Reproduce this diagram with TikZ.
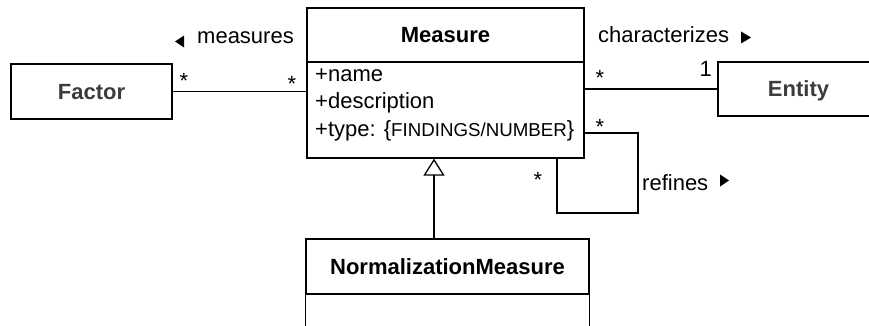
\documentclass[tikz,border=0pt]{standalone}
\usepackage{fontspec}
\setmainfont{Liberation Sans}
\usetikzlibrary{arrows.meta}
\definecolor{namegray}{HTML}{3C3C3C}
\begin{document}
\begin{tikzpicture}[x=1pt,y=-1pt,
  every node/.style={font=\fontsize{22}{27}\selectfont, inner sep=0pt},
  umlbox/.style={draw, line width=1.3pt, text height=15.75pt, text depth=0pt, font=\fontsize{22}{27}\selectfont\bfseries},
  conn/.style={line width=1.3pt},
  mult/.style={anchor=base},
  lbl/.style={anchor=base west}
]
\useasboundingbox (0,0) rectangle (869,326);
\clip (0,0) rectangle (869,326);

% classes
\node[umlbox, text=namegray, minimum width=161pt, minimum height=55pt] (F) at (91.5,91.5) {Factor};
\node[umlbox, minimum width=277pt, minimum height=54pt] (M) at (445.5,35) {Measure};
\node[draw, line width=1.3pt, minimum width=277pt, minimum height=96pt] (Ma) at (445.5,110) {};
\node[umlbox, text=namegray, minimum width=161pt, minimum height=54pt] (E) at (798.5,89) {Entity};
\node[umlbox, minimum width=283pt, minimum height=55pt] (N) at (447.5,266.5) {NormalizationMeasure};
\draw[conn] (N.south west) -- ++(0,70) -| (N.south east);

% attributes
\node[lbl] (a1) at (315,82) {+name};
\node[lbl] (a2) at (315,109) {+description};
\node[lbl] (a3) at (315,136) {+type: \{{\fontsize{18.7}{22}\selectfont FINDINGS/NUMBER}\}};

% associations
\draw[conn] (F.east) -- (F.east -| Ma.west);
\draw[conn] (E.west) -- (E.west -| Ma.east);
\coordinate (l1) at (638,133);
\coordinate (l2) at (638,213);
\coordinate (l3) at (557,213);
\draw[conn] (Ma.east |- l1) -- (l1) -- (l2) -- (l3) -- (l3 |- Ma.south);

% generalization
\coordinate (g) at (434,0);
\draw[conn, -{Triangle[open, width=21pt, length=17pt, line width=1.3pt]}] (N.north -| g) -- (Ma.south -| g);

% multiplicities
\node[mult] (m1) at (184,88.6) {*};
\node[mult] (m2) at (292,91.6) {*};
\node[mult] (m3) at (600,85.6) {*};
\node[anchor=base east] (m4) at (712,77) {1};
\node[mult] (m5) at (600,134.6) {*};
\node[mult] (m6) at (538,187.6) {*};

% association names
\node[lbl] (t1) at (197,44) {measures};
\fill (175,41.5) -- (184,35.5) -- (184,47.5) -- cycle;
\node[lbl] (t2) at (598,43) {characterizes};
\fill (751,37.5) -- (741,31.5) -- (741,43.5) -- cycle;
\node[lbl] (t3) at (642,190) {refines};
\fill (729,180.5) -- (720,174.5) -- (720,186.5) -- cycle;
\end{tikzpicture}
\end{document}
